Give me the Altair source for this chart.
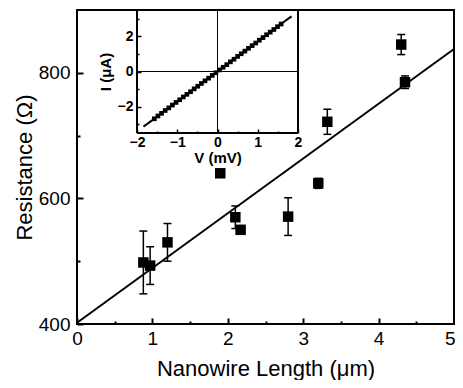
import altair as alt
import pandas as pd

# ---- main data: resistance vs nanowire length ----
length = [0.88, 0.97, 1.20, 1.90, 2.10, 2.17, 2.80, 3.20, 3.32, 4.30, 4.35]
resist = [498, 493, 530, 640, 570, 550, 571, 624, 722, 845, 785]
err = [50, 30, 30, 0, 18, 0, 30, 8, 20, 16, 10]

fit_len = [0.0, 5.0]
fit_res = [402, 838]

# ---- inset data: I-V curve ----
iv_v = [-1.84, -1.75, -1.66, -1.57, -1.48, -1.39, -1.30, -1.21, -1.12, -1.03,
        -0.94, -0.85, -0.76, -0.67, -0.58, -0.49, -0.40, -0.31, -0.22, -0.13,
        -0.04, 0.05, 0.14, 0.23, 0.32, 0.41, 0.50, 0.59, 0.68, 0.77,
        0.86, 0.95, 1.04, 1.13, 1.22, 1.31, 1.40, 1.49, 1.58, 1.67, 1.76, 1.84]
iv_i = [-3.14, -2.99, -2.84, -2.69, -2.53, -2.38, -2.22, -2.07, -1.91, -1.76,
        -1.61, -1.45, -1.30, -1.15, -0.99, -0.84, -0.68, -0.53, -0.38, -0.22,
        -0.07, 0.09, 0.24, 0.39, 0.55, 0.70, 0.86, 1.01, 1.16, 1.32,
        1.47, 1.62, 1.78, 1.93, 2.09, 2.24, 2.39, 2.55, 2.70, 2.86, 3.01, 3.14]

x_major_ticks = [0, 1, 2, 3, 4, 5]
x_minor_ticks = [0.5, 1.5, 2.5, 3.5, 4.5]
y_major_ticks = [400, 600, 800]
y_minor_ticks = [500, 700]
ix_major_ticks = [-2, -1, 0, 1, 2]
ix_minor_ticks = [-1.5, -0.5, 0.5, 1.5]
iy_major_ticks = [-2, 0, 2]
iy_minor_ticks = [-3, -1, 1, 3]

# inset frame / crosshair segments (data units of the inset)
seg_x1 = [-2, 2, -2, 0, -2]
seg_x2 = [-2, 2, 2, 0, 2]
seg_y1 = [-3.5, -3.5, -3.5, -3.5, 0]
seg_y2 = [3.5, 3.5, -3.5, 3.5, 0]
seg_w = [2, 2, 2, 1, 1]

FONT = "Liberation Sans"
W, H = 377, 314
INSET_LEFT, INSET_RIGHT, INSET_BOTTOM = 60, 221, 123

df_main = pd.DataFrame({"L": length, "R": resist, "E": err})
df_fit = pd.DataFrame({"L": fit_len, "R": fit_res})
df_iv = pd.DataFrame({"V": iv_v, "I": iv_i})
df_seg = pd.DataFrame({"x1": seg_x1, "x2": seg_x2, "y1": seg_y1, "y2": seg_y2, "w": seg_w})

xs = alt.Scale(domain=[0, 5], nice=False, zero=False)
ys = alt.Scale(domain=[400, 900], nice=False, zero=False)

common = dict(domain=False, grid=False, tickColor="black", tickWidth=2,
              labelFont=FONT, labelColor="black", labelFlush=False, titleFont=FONT,
              titleColor="black", titleFontWeight="normal")

x_major = alt.Axis(orient="bottom", values=x_major_ticks, tickSize=6, offset=-6,
                   labelPadding=5, labelFontSize=19, format="d",
                   labelAlign={"condition": {"test": "datum.value === 5", "value": "right"},
                               "value": "center"},
                   labelOffset={"condition": {"test": "datum.value === 5", "value": 1},
                                "value": 0},
                   title="Nanowire Length (μm)", titleFontSize=22, titlePadding=10,
                   **common)
y_major = alt.Axis(orient="left", values=y_major_ticks, tickSize=6, offset=-6,
                   labelPadding=7, labelFontSize=19, format="d",
                   title="Resistance (Ω)", titleFontSize=22, titlePadding=2,
                   **common)
x_minor = alt.Axis(orient="bottom", values=x_minor_ticks, tickSize=3, offset=-3,
                   labels=False, title=None, **common)
y_minor = alt.Axis(orient="left", values=y_minor_ticks, tickSize=3, offset=-3,
                   labels=False, title=None, **common)

X = lambda f: alt.X(f, type="quantitative", scale=xs, axis=x_major)
Y = lambda f: alt.Y(f, type="quantitative", scale=ys, axis=y_major)

fit = alt.Chart(df_fit).mark_line(color="black", strokeWidth=2).encode(
    x=X("L"), y=Y("R"))

errs = alt.Chart(df_main).transform_filter("datum.E > 0").transform_calculate(
    lo="datum.R - datum.E", hi="datum.R + datum.E")
bars = errs.mark_rule(color="black", strokeWidth=1.5).encode(
    x=X("L"), y=Y("lo"), y2="hi:Q")
cap_lo = errs.mark_tick(color="black", thickness=1.5, size=8, orient="horizontal",
                        opacity=1).encode(x=X("L"), y=Y("lo"))
cap_hi = errs.mark_tick(color="black", thickness=1.5, size=8, orient="horizontal",
                        opacity=1).encode(x=X("L"), y=Y("hi"))
pts = alt.Chart(df_main).mark_square(size=110, color="black", filled=True,
                                     opacity=1).encode(x=X("L"), y=Y("R"))

main_marks = alt.layer(fit, bars, cap_lo, cap_hi, pts)
main_minor = alt.Chart(df_fit).mark_point(opacity=0).encode(
    x=alt.X("L:Q", scale=xs, axis=x_minor), y=alt.Y("R:Q", scale=ys, axis=y_minor))
main = alt.layer(main_marks, main_minor).resolve_axis(x="independent", y="independent")

# ---- inset ----
ixs = alt.Scale(domain=[-2, 2], range=[INSET_LEFT, INSET_RIGHT], nice=False, zero=False)
iys = alt.Scale(domain=[-3.5, 3.5], range=[INSET_BOTTOM, 0], nice=False, zero=False)

icommon = dict(domain=False, grid=False, tickColor="black", tickWidth=1.5,
               labelFont=FONT, labelColor="black", labelFlush=False, titleFont=FONT,
               titleColor="black", titleFontWeight="bold")
ix_major = alt.Axis(orient="bottom", values=ix_major_ticks, tickSize=4,
                    offset=-(H - INSET_BOTTOM) - 4,
                    labelPadding=2, labelFontSize=14, labelFontWeight="bold", format="d",
                    title="V (mV)", titleFontSize=15, titlePadding=1, **icommon)
iy_major = alt.Axis(orient="left", values=iy_major_ticks, tickSize=4,
                    offset=-INSET_LEFT - 4,
                    labelPadding=4, labelFontSize=14, labelFontWeight="bold", format="d",
                    title="I (μA)", titleFontSize=15, titlePadding=4, **icommon)
ix_minor = alt.Axis(orient="bottom", values=ix_minor_ticks, tickSize=2,
                    offset=-(H - INSET_BOTTOM) - 2,
                    labels=False, title=None, **icommon)
iy_minor = alt.Axis(orient="left", values=iy_minor_ticks, tickSize=2,
                    offset=-INSET_LEFT - 2,
                    labels=False, title=None, **icommon)

IX = lambda f: alt.X(f, type="quantitative", scale=ixs, axis=ix_major)
IY = lambda f: alt.Y(f, type="quantitative", scale=iys, axis=iy_major)

segs = alt.Chart(df_seg).mark_rule(color="black").encode(
    x=IX("x1"), x2="x2:Q", y=IY("y1"), y2="y2:Q",
    strokeWidth=alt.StrokeWidth("w:Q", scale=None, legend=None))
iv_line = alt.Chart(df_iv).mark_line(color="black", strokeWidth=2).encode(
    x=IX("V"), y=IY("I"))
iv_pts = alt.Chart(df_iv).transform_filter("abs(datum.V) < 1.65").mark_square(
    size=22, color="black", filled=True, opacity=1).encode(x=IX("V"), y=IY("I"))

inset_marks = alt.layer(segs, iv_line, iv_pts)
inset_minor = alt.Chart(df_iv).mark_point(opacity=0).encode(
    x=alt.X("V:Q", scale=ixs, axis=ix_minor), y=alt.Y("I:Q", scale=iys, axis=iy_minor))
inset = alt.layer(inset_marks, inset_minor).resolve_axis(x="independent", y="independent")

chart = alt.layer(main, inset).resolve_scale(
    x="independent", y="independent"
).properties(
    width=W, height=H,
    padding={"left": 69, "top": 2, "right": 1, "bottom": 56},
    autosize=alt.AutoSizeParams(type="none"),
    background="white",
).configure_view(stroke="black", strokeWidth=2)

chart.save("out.html", embed_options={"renderer": "svg", "actions": False})
